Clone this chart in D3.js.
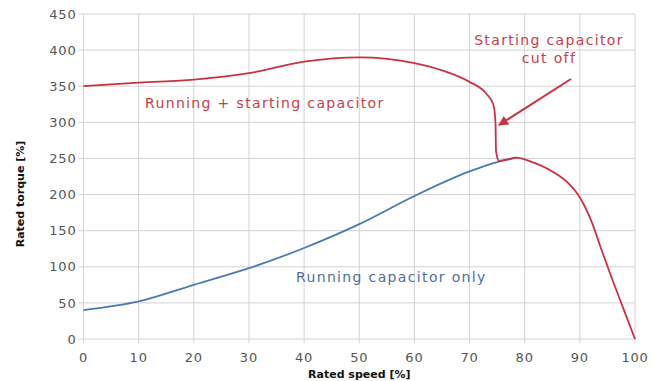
<!DOCTYPE html>
<html><head><meta charset="utf-8">
<script src="https://cdn.jsdelivr.net/npm/d3@7"></script>
<style>body{margin:0;background:#fff}svg{display:block}</style>
</head><body>
<svg id="c" width="654" height="381"></svg>
<script>
const xTicks = [0,10,20,30,40,50,60,70,80,90,100];
const yTicks = [0,50,100,150,200,250,300,350,400,450];
const redSeries = [[0,350],[10,355],[20,359],[30,368],[40,384],[50,390],[60,382],[65,372],[70,356],[73,340],[74.3,325],[74.7,300],[74.8,260],[75.3,247],[76.5,248],[78.5,251],[81,246],[85,232],[88,215],[90,196],[92,165],[94,122],[96,80],[98,40],[100,0]];
const blueSeries = [[0,40],[10,52],[20,75],[30,98],[40,126],[50,159],[60,198],[70,232],[75,245],[78.5,251]];
const labels = {xTitle:"Rated speed [%]", yTitle:"Rated torque [%]", red:"Running + starting capacitor", blue:"Running capacitor only", cut1:"Starting capacitor", cut2:"cut off"};

const svg = d3.select("#c");
const x = d3.scaleLinear().domain([0,100]).range([83.5,635]);
const y = d3.scaleLinear().domain([0,450]).range([339,14]);
const font = "'DejaVu Sans', sans-serif";

// grid
svg.append("g").selectAll("line").data(xTicks).join("line")
  .attr("x1",d=>x(d)).attr("x2",d=>x(d)).attr("y1",y(450)).attr("y2",y(0)+4)
  .attr("stroke","#d2d2d2").attr("stroke-width",1);
svg.append("g").selectAll("line").data(yTicks).join("line")
  .attr("x1",x(0)-5).attr("x2",x(100)).attr("y1",d=>y(d)).attr("y2",d=>y(d))
  .attr("stroke","#d2d2d2").attr("stroke-width",1);

// tick labels
svg.append("g").selectAll("text").data(yTicks).join("text")
  .attr("x",x(0)-7).attr("y",d=>y(d)).attr("dy","0.36em").attr("text-anchor","end")
  .attr("font-family",font).attr("font-size",13).attr("fill","#555").attr("letter-spacing",0.8)
  .text(d=>d);
svg.append("g").selectAll("text").data(xTicks).join("text")
  .attr("x",d=>x(d)).attr("y",357).attr("dy","0.36em").attr("text-anchor","middle")
  .attr("font-family",font).attr("font-size",13).attr("fill","#555").attr("letter-spacing",0.8)
  .text(d=>d);

// axis titles
svg.append("text").attr("x",x(50)).attr("y",374).attr("dy","0.36em").attr("text-anchor","middle")
  .attr("font-family",font).attr("font-size",11).attr("font-weight","bold").attr("fill","#111")
  .text(labels.xTitle);
svg.append("text").attr("transform","translate(20,194) rotate(-90)").attr("dy","0.36em").attr("text-anchor","middle")
  .attr("font-family",font).attr("font-size",11).attr("font-weight","bold").attr("fill","#111")
  .text(labels.yTitle);

// lines
const line = d3.line().x(d=>x(d[0])).y(d=>y(d[1])).curve(d3.curveMonotoneX);
svg.append("path").datum(blueSeries).attr("d",line).attr("fill","none")
  .attr("stroke","#4a79b3").attr("stroke-width",1.8);
svg.append("path").datum(redSeries).attr("d",line).attr("fill","none")
  .attr("stroke","#c9323f").attr("stroke-width",1.8);

// annotations
const ann = (t,xx,yy,col,anchor)=>svg.append("text").attr("x",xx).attr("y",yy).attr("dy","0.36em")
  .attr("text-anchor",anchor).attr("font-family",font).attr("font-size",14).attr("letter-spacing",1.35)
  .attr("fill",col).text(t);
ann(labels.red,145,103,"#c5404c","start");
ann(labels.blue,296,277,"#50709a","start");
ann(labels.cut1,549,40,"#c5404c","middle");
ann(labels.cut2,549,58,"#c5404c","middle");

// arrow
svg.append("defs").append("marker").attr("id","ah").attr("viewBox","0 0 10 10")
  .attr("refX",9).attr("refY",5).attr("markerWidth",5).attr("markerHeight",5).attr("orient","auto")
  .append("path").attr("d","M0,0L10,5L0,10z").attr("fill","#c9323f");
svg.append("line").attr("x1",571).attr("y1",79).attr("x2",499).attr("y2",125)
  .attr("stroke","#c9323f").attr("stroke-width",2).attr("marker-end","url(#ah)");
</script>
</body></html>
